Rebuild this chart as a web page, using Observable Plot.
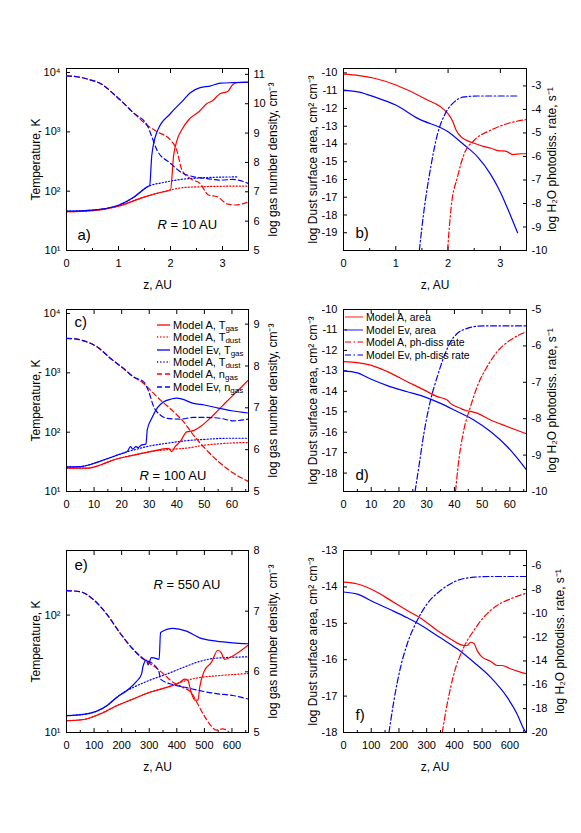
<!DOCTYPE html>
<html><head><meta charset="utf-8">
<script src="https://cdn.jsdelivr.net/npm/d3@7"></script>
<script src="https://cdn.jsdelivr.net/npm/@observablehq/plot@0.6"></script>
<style>
html,body{margin:0;padding:0;background:#fff;}
#page{position:relative;width:581px;height:833px;overflow:hidden;font-family:"Liberation Sans",Arial,sans-serif;color:#000;}
.layer{position:absolute;}
.layer svg{position:absolute;left:0;top:0;}
sub{font-size:8px;vertical-align:-2px;line-height:0;}
</style></head>
<body><div id="page"></div>
<script>
// ---------- tick values ----------
const a_xTicks = [0,1,2,3], a_xMinor = [0.5,1.5,2.5];
const cd_xTicks = [0,10,20,30,40,50,60], cd_xMinor = [5,15,25,35,45,55,65];
const ef_xTicks = [0,100,200,300,400,500,600], ef_xMinor = [50,150,250,350,450,550,650];
const a_yLTicks = [10,100,1000,10000], a_yRTicks = [5,6,7,8,9,10,11];
const b_yLTicks = [-10,-11,-12,-13,-14,-15,-16,-17,-18,-19], b_yRTicks = [-3,-4,-5,-6,-7,-8,-9,-10];
const c_yLTicks = [10,100,1000,10000], c_yRTicks = [5,6,7,8,9];
const d_yLTicks = [-10,-11,-12,-13,-14,-15,-16,-17,-18], d_yRTicks = [-5,-6,-7,-8,-9,-10];
const e_yLTicks = [10,100], e_yRTicks = [5,6,7,8];
const f_yLTicks = [-13,-14,-15,-16,-17,-18], f_yRTicks = [-6,-8,-10,-12,-14,-16,-18,-20];

// ---------- panel a: R = 10 AU  ([z AU, T K] / [z, log n]) ----------
const a_A_Tgas = [[0,45],[0.5,47],[1,56],[1.5,80],[1.8,95],[2.0,105],[2.06,400],[2.12,700],[2.22,1100],[2.35,1600],[2.55,2200],[2.7,3000],[2.8,3300],[2.95,4400],[3.1,4800],[3.2,6300],[3.3,6800],[3.5,6900]];
const a_A_Tdust = [[0,45],[0.5,47],[1,56],[1.5,80],[1.8,95],[2.0,105],[2.25,115],[2.6,119],[3.0,121],[3.5,122]];
const a_Ev_Tgas = [[0,46],[0.5,48],[1,58],[1.3,80],[1.55,118],[1.6,125],[1.64,400],[1.75,1050],[2.0,2040],[2.22,3240],[2.38,4580],[2.57,5570],[2.76,5900],[2.96,6620],[3.21,6750],[3.5,6860]];
const a_Ev_Tdust = [[0,46],[0.5,48],[1,58],[1.3,80],[1.55,118],[1.9,142],[2.2,158],[2.5,166],[2.9,172],[3.3,174]];
const a_A_n = [[0,10.95],[0.2,10.92],[0.4,10.84],[0.65,10.69],[1,10.18],[1.3,9.67],[1.55,9.27],[1.74,9.05],[2.0,8.76],[2.12,8.42],[2.22,7.74],[2.38,7.45],[2.57,7.28],[2.73,6.89],[2.9,6.83],[3.1,6.58],[3.25,6.55],[3.5,6.66]];
const a_Ev_n = [[0,10.95],[0.2,10.92],[0.4,10.84],[0.65,10.69],[1,10.18],[1.3,9.67],[1.55,9.27],[1.64,8.88],[1.74,8.42],[2.0,7.97],[2.19,7.68],[2.45,7.51],[2.7,7.45],[2.96,7.4],[3.2,7.42],[3.5,7.28]];

// ---------- panel b: R = 10 AU (log area / log rate) ----------
const b_A_area = [[0,-10.07],[0.3,-10.15],[0.59,-10.3],[1,-10.68],[1.54,-11.43],[1.99,-12.27],[2.09,-12.74],[2.15,-13.2],[2.25,-13.6],[2.5,-13.96],[2.69,-14.15],[2.82,-14.24],[2.95,-14.37],[3.1,-14.4],[3.24,-14.6],[3.4,-14.55],[3.5,-14.55]];
const b_Ev_area = [[0,-10.97],[0.3,-11.08],[0.59,-11.35],[1,-11.81],[1.42,-12.56],[2,-13.31],[2.31,-14.06],[2.56,-14.71],[2.82,-15.74],[3.01,-16.77],[3.2,-18.07],[3.33,-19.0]];
const b_A_rate = [[1.99,-10],[2.06,-8.14],[2.18,-6.87],[2.31,-5.88],[2.5,-5.31],[2.82,-4.88],[3.14,-4.6],[3.5,-4.43]];
const b_Ev_rate = [[1.45,-10],[1.54,-8.29],[1.67,-6.44],[1.8,-5.03],[1.93,-4.25],[2.12,-3.68],[2.31,-3.47],[2.57,-3.43],[3.33,-3.43]];

// ---------- panel c: R = 100 AU ----------
const c_A_Tgas = [[0,24.7],[7.5,24.7],[12.3,28],[17,34],[24.3,41],[30.4,47],[37,53.4],[38.2,47],[39.4,57],[41.2,69],[43.6,101],[46,106],[48.4,123],[53.3,195],[58,326],[62.9,545],[66,760]];
const c_A_Tdust = [[0,24.7],[7.5,24.7],[12.3,28],[17,34],[24.3,41],[30.4,47],[37,51],[43.6,54],[50.8,61],[58,65],[66,67]];
const c_Ev_Tgas = [[0,26],[5,26.3],[8,28],[11,31],[15,36],[19,42],[22,47],[23.2,57],[24,52],[25.2,57],[26,55],[27,60],[28.8,63],[29.3,110],[31,175],[33,260],[35,320],[38,362],[40,375],[42,360],[46,305],[50,287],[55,255],[60,230],[66,210]];
const c_Ev_Tdust = [[0,26],[5,26.3],[8,28],[11,31],[15,36],[19,42],[22,47],[25,51],[29,57],[36.4,65],[43.6,72],[50.8,76],[58,79],[66,79]];
const c_A_n = [[0,8.66],[3,8.65],[6.3,8.6],[11,8.46],[16,8.18],[20.7,7.94],[24.3,7.74],[28,7.58],[30,7.45],[34,7.19],[38.8,6.91],[42.4,6.67],[46,6.35],[50.8,5.99],[55.7,5.68],[60.5,5.44],[66,5.24]];
const c_Ev_n = [[0,8.66],[3,8.65],[6.3,8.6],[11,8.46],[16,8.18],[20.7,7.94],[24.3,7.74],[28,7.62],[29.8,7.39],[31.6,7.03],[34,6.83],[36.4,6.75],[41.2,6.73],[46,6.77],[50.8,6.77],[55.7,6.75],[60.5,6.69],[66,6.73]];

// ---------- panel d: R = 100 AU ----------
const d_A_area = [[0,-12.55],[5,-12.6],[9.8,-12.72],[15.8,-13.04],[23,-13.53],[29,-13.93],[33.8,-14.26],[37.4,-14.42],[38.6,-14.59],[42.2,-14.83],[43.4,-14.91],[44.6,-14.95],[48.2,-15.07],[53,-15.4],[59,-15.72],[66,-16.08]];
const d_Ev_area = [[0,-13.0],[5,-13.1],[9.8,-13.4],[15.8,-13.72],[23,-14.02],[29,-14.26],[35,-14.59],[41,-14.99],[47,-15.4],[53,-15.97],[59,-16.7],[66,-17.84]];
const d_A_rate = [[40.4,-10],[41.6,-9.13],[43.4,-8.31],[45.8,-7.67],[48.2,-7.12],[51.8,-6.57],[55.4,-6.16],[60.2,-5.84],[66,-5.61]];
const d_Ev_rate = [[25.8,-10],[27.2,-9.31],[29,-8.4],[31.4,-7.49],[33.8,-6.85],[36.2,-6.3],[38.6,-5.89],[41,-5.66],[44.6,-5.52],[48.2,-5.46],[53,-5.45],[66,-5.45]];

// ---------- panel e: R = 550 AU ----------
const e_A_Tgas = [[0,12.6],[62,12.9],[122,14.4],[182,16.9],[242,19.3],[302,22],[363,24.2],[411,26.7],[428,28.5],[440,27.9],[452,22],[465,18.9],[477,18.9],[483,24.2],[500,33.5],[525,39.4],[549,50.2],[561,47.9],[573,42],[603,44.9],[660,55.7]];
const e_A_Tdust = [[0,12.6],[62,12.9],[122,14.4],[182,16.9],[242,19.3],[302,22],[363,24.2],[411,26.7],[483,29.4],[543,30.4],[660,31.8]];
const e_Ev_Tgas = [[0,13.9],[74,14.4],[110,15.2],[146,16.9],[182,19.9],[218,22.7],[254,27.2],[272,31.4],[278,37],[290,41.3],[296,37.7],[308,43.5],[320,43],[336,42],[341,71],[386,77],[435,73],[483,64],[543,60],[603,58],[660,57]];
const e_Ev_Tdust = [[0,13.9],[74,14.4],[110,15.2],[146,16.9],[182,19.9],[218,22.7],[242,24.2],[302,27.9],[363,31.4],[423,35.8],[483,40.3],[543,43],[660,44.1]];
const e_A_n = [[0,7.34],[50,7.32],[98,7.19],[146,6.95],[194,6.64],[242,6.37],[290,6.18],[338,6.02],[386,5.83],[423,5.74],[452,5.66],[470,5.52],[495,5.31],[519,5.14],[543,5.04],[567,5.06],[591,5.0]];
const e_Ev_n = [[0,7.34],[50,7.32],[98,7.19],[146,6.95],[194,6.64],[242,6.37],[278,6.21],[314,6.13],[336,5.99],[341,5.88],[386,5.79],[435,5.74],[483,5.69],[543,5.64],[603,5.61],[660,5.55]];

// ---------- panel f: R = 550 AU ----------
const f_A_area = [[0,-13.87],[50,-13.92],[110,-14.1],[170,-14.37],[230,-14.65],[290,-14.92],[338,-15.2],[386,-15.43],[434,-15.61],[446,-15.61],[458,-15.52],[470,-15.55],[482,-15.75],[500,-15.93],[530,-16.04],[554,-16.16],[572,-16.16],[602,-16.25],[638,-16.34],[660,-16.39]];
const f_Ev_area = [[0,-14.14],[50,-14.2],[110,-14.42],[170,-14.63],[230,-14.85],[290,-15.1],[350,-15.4],[410,-15.7],[470,-16.07],[530,-16.48],[590,-17.03],[626,-17.49],[650,-17.9],[658,-18.0]];
const f_A_rate = [[356,-20],[374,-17.6],[398,-15.1],[434,-12.84],[470,-11.45],[506,-10.33],[554,-9.35],[602,-8.8],[660,-8.32]];
const f_Ev_rate = [[164,-20],[182,-17.3],[206,-14.5],[230,-12.56],[266,-10.6],[302,-9.2],[350,-8.1],[410,-7.26],[470,-6.98],[530,-6.92],[660,-6.92]];

// ---------- legends ----------
const legendC = [["red","solid","Model A, T","gas"],["red","dot","Model A, T","dust"],["blue","solid","Model Ev, T","gas"],["blue","dot","Model A, T","dust"],["red","dash","Model A, n","gas"],["blue","dash","Model Ev, n","gas"]];
const legendD = [["red","solid","Model A, area",""],["blue","solid","Model Ev, area",""],["red","dashdot","Model A, ph-diss rate",""],["blue","dashdot","Model Ev, ph-diss rate",""]];

// ---------- styling ----------
const FONT = '"Liberation Sans", Arial, sans-serif';
const COLORS = {red: "#ff0000", blue: "#0000ff"};
const DASHES = {solid: undefined, dot: "1.2,2", dash: "5,3", dashdot: "6,2.5,1.5,2.5"};
const SUP = {"1":"\u00b9","2":"\u00b2","3":"\u00b3","4":"\u2074"};
const logFmt = d => "10" + SUP[String(Math.round(Math.log10(d)))];
const numFmt = d => String(d);
const H = 260, MT = 28, MB = 50;
const LBL_T = "Temperature, K", LBL_N = "log gas number density, cm\u207b\u00b3";
const LBL_A = "log Dust surface area, cm\u00b2 cm\u207b\u00b3", LBL_R = "log H\u2082O photodiss. rate, s\u207b\u00b9";

const panels = [
  {px:0, py:40, w:290, mL:66, mR:42, xDomain:[0,3.5], xTicks:a_xTicks, xMinor:a_xMinor, xLabel:true,
   yL:{type:"log", domain:[10,11700], ticks:a_yLTicks, fmt:logFmt, label:LBL_T, dx:-30},
   yR:{domain:[5,11.2], ticks:a_yRTicks, label:LBL_N, dx:25},
   lines:[[a_A_Tdust,"red","dot"],[a_Ev_Tdust,"blue","dot"],[a_A_Tgas,"red","solid"],[a_Ev_Tgas,"blue","solid"]],
   rlines:[[a_A_n,"red","dash"],[a_Ev_n,"blue","dash"]],
   tag:{text:"a)", anchor:"bottom-left", dx:11, dy:-15.5},
   rtext:{anchor:"bottom-right", rdx:-91, dy:-25.3, rest:"= 10 AU"}},
  {px:290, py:40, w:291, mL:53, mR:55, xDomain:[0,3.5], xTicks:a_xTicks, xMinor:a_xMinor, xLabel:true,
   yL:{type:"linear", domain:[-20,-9.75], ticks:b_yLTicks, fmt:numFmt, label:LBL_A, dx:-30},
   yR:{domain:[-10,-2.26], ticks:b_yRTicks, label:LBL_R, dx:26},
   lines:[[b_A_area,"red","solid"],[b_Ev_area,"blue","solid"]],
   rlines:[[b_A_rate,"red","dashdot"],[b_Ev_rate,"blue","dashdot"]],
   tag:{text:"b)", anchor:"bottom-left", dx:12, dy:-17}},
  {px:0, py:281, w:290, mL:66, mR:42, xDomain:[0,66], xTicks:cd_xTicks, xMinor:cd_xMinor, xLabel:false,
   yL:{type:"log", domain:[10,11700], ticks:c_yLTicks, fmt:logFmt, label:LBL_T, dx:-30},
   yR:{domain:[5,9.35], ticks:c_yRTicks, label:LBL_N, dx:25},
   lines:[[c_A_Tdust,"red","dot"],[c_Ev_Tdust,"blue","dot"],[c_A_Tgas,"red","solid"],[c_Ev_Tgas,"blue","solid"]],
   rlines:[[c_A_n,"red","dash"],[c_Ev_n,"blue","dash"]],
   tag:{text:"c)", anchor:"top-left", dx:8, dy:12.7},
   rtext:{anchor:"bottom-right", rdx:-109, dy:-15.3, rest:"= 100 AU"}},
  {px:290, py:281, w:291, mL:53, mR:55, xDomain:[0,66], xTicks:cd_xTicks, xMinor:cd_xMinor, xLabel:false,
   yL:{type:"linear", domain:[-18.9,-10], ticks:d_yLTicks, fmt:numFmt, label:LBL_A, dx:-30},
   yR:{domain:[-10,-5], ticks:d_yRTicks, label:LBL_R, dx:26},
   lines:[[d_A_area,"red","solid"],[d_Ev_area,"blue","solid"]],
   rlines:[[d_A_rate,"red","dashdot"],[d_Ev_rate,"blue","dashdot"]],
   tag:{text:"d)", anchor:"bottom-left", dx:12, dy:-16}},
  {px:0, py:522, w:290, mL:66, mR:42, xDomain:[0,660], xTicks:ef_xTicks, xMinor:ef_xMinor, xLabel:true,
   yL:{type:"log", domain:[10,355], ticks:e_yLTicks, fmt:logFmt, label:LBL_T, dx:-30},
   yR:{domain:[5,8], ticks:e_yRTicks, label:LBL_N, dx:25},
   lines:[[e_A_Tdust,"red","dot"],[e_Ev_Tdust,"blue","dot"],[e_A_Tgas,"red","solid"],[e_Ev_Tgas,"blue","solid"]],
   rlines:[[e_A_n,"red","dash"],[e_Ev_n,"blue","dash"]],
   tag:{text:"e)", anchor:"top-left", dx:8, dy:15},
   rtext:{anchor:"top-right", rdx:-95, dy:34.7, rest:"= 550 AU"}},
  {px:290, py:522, w:291, mL:53, mR:55, xDomain:[0,660], xTicks:ef_xTicks, xMinor:ef_xMinor, xLabel:true,
   yL:{type:"linear", domain:[-18,-13], ticks:f_yLTicks, fmt:numFmt, label:LBL_A, dx:-30},
   yR:{domain:[-20,-4.74], ticks:f_yRTicks, label:LBL_R, dx:34},
   lines:[[f_A_area,"red","solid"],[f_Ev_area,"blue","solid"]],
   rlines:[[f_A_rate,"red","dashdot"],[f_Ev_rate,"blue","dashdot"]],
   tag:{text:"f)", anchor:"bottom-left", dx:12, dy:-17}}
];

const page = document.getElementById("page");

function lineMark([data, color, dash]) {
  return Plot.line(data, {x: d => d[0], y: d => d[1], stroke: COLORS[color], strokeWidth: 1.2,
    strokeDasharray: DASHES[dash], curve: "monotone-x", clip: true});
}

function label(text, opts) {
  return Plot.text([text], {textAnchor: "middle", lineAnchor: "middle", ...opts});
}

function makePanel(c) {
  const holder = document.createElement("div");
  holder.className = "layer";
  holder.style.left = c.px + "px";
  holder.style.top = c.py + "px";
  holder.style.width = c.w + "px";
  holder.style.height = H + "px";
  const base = {width: c.w, height: H, marginLeft: c.mL, marginRight: c.mR, marginTop: MT, marginBottom: MB,
    style: {background: "transparent", fontFamily: FONT, fontSize: "11px", color: "#000", overflow: "visible"}};
  const marksL = [
    Plot.axisX({ticks: c.xTicks, tickSize: -4, tickPadding: 13, tickFormat: numFmt, label: null}),
    Plot.axisX({ticks: c.xMinor, tickSize: -2, tickPadding: 0, tickFormat: () => "", label: null}),
    Plot.axisX({anchor: "top", ticks: c.xTicks, tickSize: -4, tickPadding: 0, tickFormat: () => "", label: null}),
    Plot.axisY({ticks: c.yL.ticks, tickSize: -4, tickPadding: 10, tickFormat: c.yL.fmt, label: null}),
    ...c.lines.map(lineMark),
    Plot.frame({stroke: "#000"}),
    label(c.yL.label, {frameAnchor: "left", dx: c.yL.dx, rotate: -90, fontSize: 12}),
    label(c.tag.text, {frameAnchor: c.tag.anchor, dx: c.tag.dx, dy: c.tag.dy, textAnchor: "start", fontSize: 15})
  ];
  if (c.xLabel) marksL.push(label("z, AU", {frameAnchor: "bottom", dy: 35, fontSize: 12}));
  if (c.rtext) {
    marksL.push(label("R", {frameAnchor: c.rtext.anchor, dx: c.rtext.rdx, dy: c.rtext.dy, textAnchor: "start", fontStyle: "italic", fontSize: 13}));
    marksL.push(label(c.rtext.rest, {frameAnchor: c.rtext.anchor, dx: c.rtext.rdx + 13, dy: c.rtext.dy, textAnchor: "start", fontSize: 13}));
  }
  const p1 = Plot.plot({...base, x: {domain: c.xDomain}, y: {type: c.yL.type, domain: c.yL.domain}, marks: marksL});
  const marksR = [
    Plot.axisY({anchor: "right", ticks: c.yR.ticks, tickSize: -4, tickPadding: 9, tickFormat: numFmt, label: null}),
    ...c.rlines.map(lineMark),
    label(c.yR.label, {frameAnchor: "right", dx: c.yR.dx, rotate: -90, fontSize: 12})
  ];
  const p2 = Plot.plot({...base, x: {domain: c.xDomain, axis: null}, y: {type: "linear", domain: c.yR.domain}, marks: marksR});
  holder.appendChild(p1);
  holder.appendChild(p2);
  page.appendChild(holder);
}
panels.forEach(makePanel);

function legend(items, x, y0, step, sampleW, fontSize, opacity) {
  items.forEach(([color, dash, main, sub], i) => {
    const row = document.createElement("div");
    row.style.cssText = `position:absolute;left:${x}px;top:${y0 + i * step - 7}px;height:14px;line-height:14px;font-size:${fontSize}px;white-space:nowrap;display:flex;align-items:center;`;
    const da = DASHES[dash] ? `stroke-dasharray="${DASHES[dash]}"` : "";
    row.innerHTML = `<svg width="${sampleW}" height="14" style="margin-right:3px;flex:none"><line x1="0" x2="${sampleW}" y1="7" y2="7" stroke="${COLORS[color]}" stroke-opacity="${opacity}" stroke-width="1.3" ${da}/></svg><span>${main}${sub ? `<sub>${sub}</sub>` : ""}</span>`;
    page.appendChild(row);
  });
}
legend(legendC, 157, 325, 12.3, 13, 11, 1);
legend(legendD, 345, 317, 12.7, 18, 10.5, 0.7);
</script>
</body></html>
